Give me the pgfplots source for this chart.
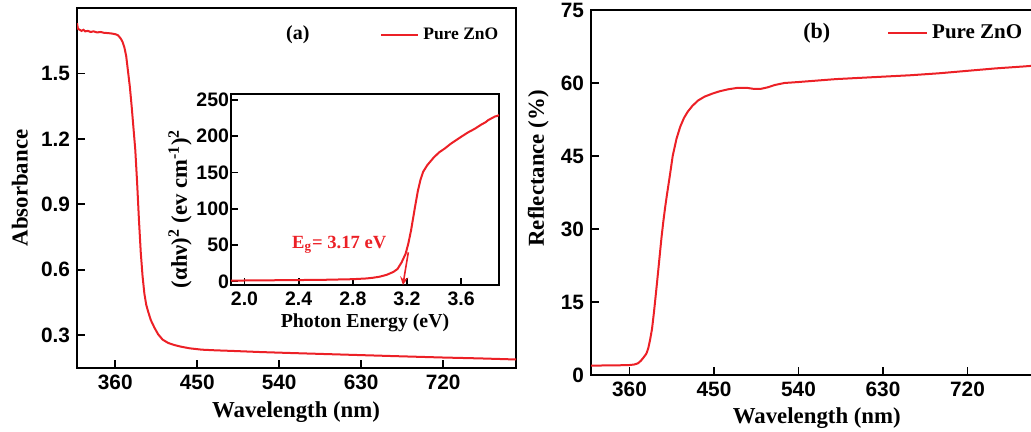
\documentclass[border=0pt]{standalone}
\usepackage{fontspec}
\setmainfont{Liberation Serif}
\setsansfont{Liberation Sans}
\usepackage{pgfplots}
\pgfplotsset{compat=1.18}

\definecolor{zno}{RGB}{236,32,38}

\pgfplotsset{
  panel/.style={
    scale only axis, anchor=south west,
    axis line style={line width=0.9pt},
    tick style={line width=0.9pt, black},
    tick align=inside, tick pos=left,
    major tick length=3.8pt,
    /pgf/number format/assume math mode=true,
    label style={font=\bfseries\fontsize{11.4}{13}\selectfont},
    tick label style={font=\sffamily\bfseries\fontsize{10.4}{12}\selectfont},
    legend style={draw=none, fill=none, inner sep=0pt},
    legend image code/.code={\draw[#1] (0pt,0pt) -- (18.5pt,0pt);},
  },
  zline/.style={zno, line width=1pt, no markers},
}

\begin{document}
\begin{tikzpicture}
% (a) absorbance
\begin{axis}[panel,
  at={(38.5pt,32pt)}, width=219.5pt, height=180pt,
  xmin=318, xmax=800, ymin=0.15, ymax=1.8,
  xtick={360,450,540,630,720},
  ytick={0.3,0.6,0.9,1.2,1.5}, yticklabels={0.3,0.6,0.9,1.2,1.5},
  xlabel={Wavelength (nm)}, ylabel={Absorbance},
  xlabel style={at={(axis description cs:0.499,-0.122)}, anchor=center},
  ylabel style={at={(axis description cs:-0.130,0.5)}, anchor=center},
  legend style={at={(0.69,0.925)}, anchor=west, font=\bfseries\fontsize{8.75}{10}\selectfont},
]
\addplot[zline] coordinates {
(318,1.73) (319,1.705) (321,1.70) (323,1.695) (325,1.70) (327,1.693) (330,1.695)
(333,1.69) (336,1.693) (340,1.688) (344,1.69) (348,1.686) (352,1.685) (356,1.683)
(360,1.68) (363,1.675) (366,1.66) (368,1.645) (370,1.62) (372,1.58) (374,1.51)
(376,1.44) (378,1.35) (380,1.25) (382,1.15) (384,1.00) (386,0.83) (388,0.68)
(390,0.57) (392,0.49) (394,0.44) (396,0.41) (399,0.37) (403,0.335) (407,0.305)
(412,0.28) (418,0.265) (425,0.255) (433,0.247) (442,0.240) (455,0.234)
(470,0.231) (490,0.228) (520,0.223) (550,0.219) (590,0.214) (630,0.209)
(670,0.204) (720,0.198) (760,0.194) (800,0.189)};
\addlegendentry{Pure ZnO}
\node[font=\bfseries\fontsize{10}{12}\selectfont] at (rel axis cs:0.503,0.925) {(a)};
\end{axis}

% inset
\begin{axis}[panel,
  at={(115.5pt,73.5pt)}, width=134pt, height=95.5pt,
  xmin=1.9, xmax=3.88, ymin=-5, ymax=258,
  major tick length=3.3pt,
  xtick={2.0,2.4,2.8,3.2,3.6}, xticklabels={2.0,2.4,2.8,3.2,3.6},
  ytick={0,50,100,150,200,250},
  tick label style={font=\sffamily\bfseries\fontsize{9.75}{11}\selectfont},
  yticklabel style={inner xsep=0.8pt},
  xlabel={Photon Energy (eV)},
  ylabel={(αhν)\textsuperscript{2} (ev cm\textsuperscript{-1})\textsuperscript{2}},
  xlabel style={at={(axis description cs:0.5,-0.2)}, anchor=center,
    font=\bfseries\fontsize{9.9}{11}\selectfont},
  ylabel style={at={(axis description cs:-0.19,0.40)}, anchor=center,
    font=\bfseries\fontsize{11.3}{13}\selectfont},
]
\addplot[zline] coordinates {
(1.9,1.0) (2.0,1.2) (2.2,1.5) (2.4,1.8) (2.6,2.2) (2.8,3.0) (2.9,4) (2.95,5)
(3.0,6.5) (3.05,9) (3.1,13) (3.13,17) (3.16,26) (3.19,38) (3.21,52) (3.23,70)
(3.26,103) (3.28,124) (3.30,140) (3.32,151) (3.35,160) (3.40,171) (3.44,178)
(3.48,183) (3.52,189) (3.56,194) (3.60,199) (3.65,205) (3.70,210) (3.75,216)
(3.78,219) (3.80,222) (3.83,225) (3.85,227) (3.87,228) (3.88,229)};
\addplot[zno, line width=0.8pt, -stealth] coordinates {(3.21,40) (3.17,-5)};
\node[anchor=base west, text=zno, font=\bfseries\fontsize{9.3}{11}\selectfont]
  at (axis cs:2.30,45) {E\textsubscript{g}= 3.17 eV};
\end{axis}

% (b) reflectance
\begin{axis}[panel,
  at={(295.5pt,28.5pt)}, width=225.8pt, height=182.5pt,
  xmin=319, xmax=800, ymin=0, ymax=75,
  xtick={360,450,540,630,720},
  ytick={0,15,30,45,60,75},
  xlabel={Wavelength (nm)}, ylabel={Reflectance (\%)},
  xlabel style={at={(axis description cs:0.5,-0.118)}, anchor=center},
  ylabel style={at={(axis description cs:-0.117,0.566)}, anchor=center},
  legend style={at={(0.655,0.937)}, anchor=west, font=\bfseries\fontsize{10.5}{12}\selectfont},
  legend image code/.code={\draw[#1] (0pt,0pt) -- (19.5pt,0pt);},
]
\addplot[zline] coordinates {
(319,1.9) (330,1.95) (340,2.0) (350,2.0) (360,2.05) (365,2.15) (369,2.4)
(372,2.9) (375,3.6) (378,4.4) (380,5.5) (382,7.3) (384,9.5) (386,12.8)
(388,16.5) (390,20.3) (392,24.2) (394,28.1) (396,31.5) (398,34.5) (400,37.2)
(403,41) (406,45) (410,48.5) (414,51) (418,52.8) (422,54.1) (427,55.3)
(433,56.4) (440,57.2) (448,57.8) (456,58.3) (465,58.7) (475,59.0) (485,59.0)
(492,58.8) (500,58.8) (507,59.1) (515,59.6) (525,60.0) (540,60.2) (560,60.5)
(580,60.8) (600,61.0) (630,61.3) (660,61.6) (690,62.0) (720,62.5) (750,63.0)
(780,63.4) (800,63.7)};
\addlegendentry{Pure ZnO}
\node[font=\bfseries\fontsize{11}{13}\selectfont] at (rel axis cs:0.50,0.937) {(b)};
\end{axis}

\pgfresetboundingbox
\useasboundingbox (0,0) rectangle (515.5pt,216pt);
\end{tikzpicture}
\end{document}
